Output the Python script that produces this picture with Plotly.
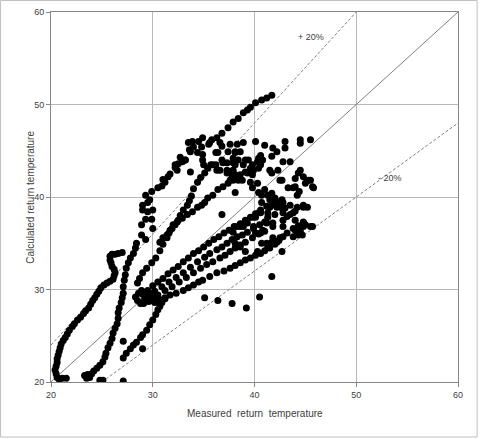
import plotly.graph_objects as go

# ---------------- data (measured, calculated) ----------------
left_branch = [(20.6,20.5),(20.5,20.9),(20.4,21.3),(20.5,21.7),(20.6,22.1),(20.6,22.5),(20.7,22.9),(20.8,23.3),(20.9,23.7),(21.0,24.1),
               (21.2,24.5),(21.4,24.8),(21.6,25.2),(21.8,25.6),(22.1,26.0),(22.3,26.3),(22.6,26.7),(22.9,27.0),(23.2,27.4),(23.4,27.7),
               (23.7,28.0),(23.9,28.4),(24.1,28.8),(24.3,29.1),(24.5,29.5),(24.7,29.8),(24.9,30.2),(25.2,30.5),(25.5,30.7),(25.8,30.9),
               (26.1,31.1),(26.2,31.5),(26.3,31.8),(26.2,32.2),(26.0,32.5),(25.9,32.9),(25.8,33.2),(25.8,33.6),(26.0,33.8),(26.3,33.8),
               (26.6,33.9),(27.0,34.0),(21.1,20.4),(21.5,20.4),(20.8,20.3)]

steep_branch = [(23.3,20.7),(23.5,20.4),(23.6,20.8),(23.8,20.5),(24.0,20.9),(24.2,21.2),(24.8,20.2),(25.1,20.2),
                (24.5,21.5),(24.8,21.8),(25.1,22.2),(25.3,22.7),(25.4,23.1),(25.6,23.7),(25.8,24.2),(26.0,24.7),(26.1,25.3),
                (26.3,25.8),(26.5,26.3),(26.6,26.9),(26.6,27.5),(26.7,28.0),(26.9,28.6),(27.0,29.1),(27.1,29.6),(27.1,30.3),
                (27.2,31.0),(27.3,31.6),(27.4,32.3),(27.6,32.9),(27.8,33.4),(28.1,33.9),(28.3,34.5),
                (28.4,35.0),(28.9,35.9),(29.3,35.4),(28.9,37.0),(29.3,37.6),(29.9,37.6),(30.0,36.6),(29.0,38.6),(29.5,38.4),
                (30.0,38.6),(29.0,39.1),(29.5,39.4),(29.7,39.7),(29.3,40.2),(29.9,40.6),(30.5,41.0),(30.9,41.2),(31.2,41.6),
                (31.5,42.2),(31.7,42.5),(32.2,43.2),(32.4,42.9),(32.5,43.6),(32.7,44.3),(32.9,43.8),(33.2,44.0),(33.6,45.1)]

fan_steep = [(28.5,30.7),(28.7,31.2),(29.0,31.8),(29.4,32.3),(29.9,32.9),(30.3,33.4),(30.7,34.2),(31.0,34.9),(31.4,35.6),
             (31.6,36.1),(31.9,36.6),(32.2,37.0),(32.5,37.5),(32.7,38.0),(33.0,38.6),(33.4,39.1),(33.6,39.6),(33.8,40.1),
             (34.0,40.9),(34.4,41.6),(34.7,42.1),(35.1,42.6),(35.4,43.1)]

fan_shallow = [(30.7,35.1),(31.0,35.6),(31.4,35.9),(31.7,36.4),(32.0,37.0),(32.4,37.3),(32.9,37.7),(33.4,38.1),(33.9,38.4),
               (34.4,38.9),(34.8,39.1),(35.1,39.4),(35.4,39.9),(35.9,40.2),(36.4,40.8),(36.9,41.1),(37.4,41.5),(37.9,41.8),(38.4,42.2)]

rising_line = [(27.1,22.6),(27.4,23.1),(27.8,23.6),(28.1,24.0),(28.4,24.3),(28.8,24.8),(29.0,25.1),(29.4,25.6),(29.7,26.2),
               (30.0,26.7),(30.3,27.3),(30.5,27.8),(30.7,28.2),(30.9,28.6),(31.2,29.0)]

lower_band = [(28.3,29.2),(28.5,28.8),(28.8,28.5),(29.1,28.5),(29.4,28.8),(28.6,29.6),(28.9,29.9),(29.2,29.0),(29.6,28.7),(30.0,28.8),(29.8,29.6),(30.3,29.2),
              (29.0,29.5),(29.5,29.9),(30.0,30.4),(30.5,30.8),(31.0,31.2),(31.5,31.7),(32.0,32.1),(32.5,32.5),(33.0,33.0),(33.5,33.4),
              (34.0,33.9),(34.5,34.2),(35.0,34.6),(35.5,35.0),(36.0,35.4),(36.5,35.7),(37.0,36.1),(37.5,36.4),(38.0,36.8),(38.6,37.1),
              (39.1,37.3),(39.6,37.8),(40.1,38.2),(40.6,38.6),(41.2,39.0),(41.8,39.3),(42.3,39.5),
              (29.5,29.3),(30.2,29.8),(30.9,30.3),(31.6,30.8),(32.3,31.3),(33.0,31.8),(33.7,32.4),(34.4,33.0),(35.1,33.5),(35.6,33.9),
              (36.3,34.3),(36.8,34.6),(37.3,35.0),(37.8,35.4),(38.3,35.7),(38.8,35.9),(39.3,36.2),(39.9,36.6),(40.5,37.0),(41.0,37.3),
              (29.8,29.0),(30.5,29.4),(31.2,29.9),(31.9,30.3),(32.6,30.8),(33.3,31.3),(34.0,31.8),(34.7,32.3),(35.3,32.7),(35.9,33.0),
              (36.6,33.4),(37.1,33.7),(37.6,34.1),(38.1,34.5),(38.6,34.8),(39.1,35.1),(39.8,35.6),(40.4,36.0),(41.0,36.3),
              (30.2,28.6),(30.7,28.9),(31.2,29.1),(31.7,29.4),(32.3,29.6),(33.0,29.9),(33.5,30.2),(34.0,30.5),(34.5,30.8),(34.9,31.0),
              (35.6,31.4),(36.3,31.8),(37.0,32.0),(37.6,32.3),(38.1,32.6),(38.6,32.9),(39.1,33.2),(39.6,33.4),(40.1,33.7),(40.6,33.9),
              (41.0,34.2),(41.5,34.5),(42.0,34.9),(42.4,35.3),(42.8,35.7)]

upper_cluster = [(33.5,45.9),(33.9,46.0),(34.0,45.4),(33.7,44.9),(34.5,46.0),(34.9,46.4),(34.8,45.4),(34.9,44.6),(35.8,46.2),(35.6,45.9),
                 (36.6,45.9),(36.8,45.5),(37.6,45.7),(33.2,44.0),(32.2,43.5),(31.0,41.9),(34.4,44.8),(35.5,45.7),(36.2,44.8),(37.4,44.9),
                 (38.1,44.8),(38.3,45.7),(34.9,44.0),(35.0,43.5),(35.7,43.5),(36.2,43.5),(36.6,42.9),(37.3,42.9),(37.8,42.8),(38.1,43.5),
                 (33.7,42.7),(36.4,44.8),(36.8,44.0),(37.3,43.7),(36.3,46.4),(36.8,46.9),(37.4,47.5),
                 (37.9,48.1),(38.4,48.5),(38.9,49.1),(39.3,49.4),(39.6,49.7),(40.1,50.2),(40.7,50.5),(41.2,50.7),(41.7,51.0),
                 (35.9,43.5),(36.3,42.9),(37.3,42.6),(37.6,41.8),(38.1,42.4),(38.4,41.8),(39.1,42.7),(39.6,41.6),(36.9,43.7),(37.9,43.7),
                 (38.4,44.0),(39.4,44.0),(39.8,43.5),(40.3,43.8),(40.6,43.5),(38.1,40.5),(40.4,43.1),(38.1,44.9),(38.6,44.9),(37.9,44.2),
                 (39.1,44.0),(38.9,43.5),(39.6,43.1),(39.9,42.9),(40.4,44.2),(40.6,44.5),(39.3,42.6),(39.8,42.4),(38.8,41.8),(38.6,42.4),
                 (37.9,42.9),(37.8,42.2),(39.8,41.0),(40.3,41.5),(40.4,40.5),(40.7,40.2),(41.0,40.8),(41.7,40.4),(38.9,45.9)]

right_cluster = [(40.1,46.0),(41.0,45.6),(41.8,45.3),(43.0,46.0),(43.0,45.3),(44.5,46.2),(44.5,45.8),(45.5,46.2),(42.2,44.9),(42.8,43.8),
                 (43.5,43.8),(41.7,44.4),(40.8,44.0),(41.5,42.9),(41.7,42.6),(42.5,41.8),(42.7,41.8),(42.3,42.9),(44.5,42.9),(44.3,42.6),
                 (44.0,42.0),(45.5,41.8),(45.8,41.0),(45.0,41.5),(43.8,41.0),(43.3,41.0),(44.2,40.2),(44.4,40.6),(42.0,39.9),(42.5,39.5),
                 (42.8,39.4),(41.7,39.1),(41.5,38.9),(43.0,38.8),(44.8,39.1),(45.2,38.9),(44.0,38.5),(43.5,38.1),(43.2,37.9),(42.8,38.3),
                 (42.0,38.1),(41.3,38.3),(40.6,38.3),(41.2,37.2),(41.8,36.8),(40.1,37.8),(39.1,37.5),(38.9,36.8),(38.3,36.8),(37.9,36.2),
                 (39.9,36.8),(40.1,36.1),(40.8,36.4),(41.8,35.6),(44.0,37.5),(44.3,36.9),(44.8,36.8),(44.0,36.4),(44.3,35.9),(44.5,36.3),
                 (45.7,36.8),(43.8,35.7),(43.2,36.1),(42.8,37.5),(44.8,37.2),(45.5,36.8),(43.5,39.1),(42.7,38.8),(42.7,39.7),(42.2,38.9),
                 (43.8,38.3),(44.2,38.9),(44.8,38.9),(45.3,41.8),(45.7,41.1),(44.8,42.2),(44.0,41.1),(41.3,40.2),(41.5,39.7),(40.7,39.4),
                 (41.3,37.8),(40.4,38.3),(39.8,37.8),(39.3,37.2),(38.6,36.8),(40.6,36.1),(41.8,37.2),(42.8,36.8),(43.8,36.6),(44.2,36.1),
                 (44.7,35.9),(44.5,36.8),(45.0,37.0),(44.8,37.3),(40.7,35.0),(41.2,35.0),(41.7,35.1),(42.5,35.6),(38.1,35.0),(38.6,34.6),
                 (39.1,34.1),(40.3,34.1),(41.3,34.6),(42.2,35.1)]

outliers = [(27.1,20.1),(29.0,23.6),(27.1,24.4),(35.1,29.1),(36.4,28.8),(37.8,28.5),(39.2,28.0),(40.5,29.2),(41.7,31.4),(42.7,34.1),(36.8,38.1)]

# reference lines (measured -> calculated)
equal_x, equal_y = [20, 60], [20, 60]
plus20_x, plus20_y = [20, 50], [24, 60]
minus20_x, minus20_y = [25, 60], [20, 48]

x_ticks = [20, 30, 40, 50, 60]
y_ticks = [20, 30, 40, 50, 60]

groups = [left_branch, steep_branch, fan_steep, fan_shallow, rising_line, lower_band, upper_cluster, right_cluster, outliers]

fig = go.Figure()
line_col = "#7f7f7f"
fig.add_trace(go.Scatter(x=equal_x, y=equal_y, mode="lines", line=dict(color=line_col, width=1), hoverinfo="skip"))
fig.add_trace(go.Scatter(x=plus20_x, y=plus20_y, mode="lines", line=dict(color=line_col, width=1, dash="3px,2px"), hoverinfo="skip"))
fig.add_trace(go.Scatter(x=minus20_x, y=minus20_y, mode="lines", line=dict(color=line_col, width=1, dash="3px,2px"), hoverinfo="skip"))

for g in groups:
    gx = [p[0] for p in g]
    gy = [p[1] for p in g]
    fig.add_trace(go.Scatter(x=gx, y=gy, mode="markers", marker=dict(color="black", size=7, line=dict(width=0))))

font_family = "Liberation Sans, Arial, sans-serif"
txt_col = "#404040"
axis_common = dict(
    showgrid=True, gridcolor="#b8b8b8", gridwidth=1, zeroline=False,
    showline=True, linecolor="#868686", linewidth=1, mirror=True,
    ticks="outside", ticklen=4, tickcolor="#868686",
    tickfont=dict(family=font_family, size=9, color=txt_col),
    automargin=False,
)
fig.update_xaxes(range=[20, 60], tickvals=x_ticks, ticktext=[str(v) for v in x_ticks], **axis_common)
fig.update_yaxes(range=[20, 60], tickvals=y_ticks, ticktext=[str(v) for v in y_ticks], **axis_common)

fig.add_annotation(xref="paper", yref="paper", x=0.5, y=-0.084, xanchor="center", yanchor="middle",
                   text="Measured  return  temperature", showarrow=False,
                   font=dict(family=font_family, size=10, color=txt_col))
fig.add_annotation(xref="paper", yref="paper", x=-0.052, y=0.5, xanchor="center", yanchor="middle",
                   text="Calculated return temperature", showarrow=False,
                   textangle=-90, font=dict(family=font_family, size=10, color=txt_col))

fig.add_annotation(x=45.6, y=57.3, text="+ 20%", showarrow=False, font=dict(family=font_family, size=9, color=txt_col))
fig.add_annotation(x=53.3, y=42.1, text="- 20%", showarrow=False, font=dict(family=font_family, size=9, color=txt_col))

# outer chart frame
fig.add_shape(type="rect", xref="paper", yref="paper", x0=-0.124, x1=1.047, y0=-0.1486, y1=1.031,
              line=dict(color="#c0c0c0", width=1))

fig.update_layout(
    width=480, height=439, showlegend=False,
    margin=dict(l=51, r=22, t=12, b=57),
    paper_bgcolor="white", plot_bgcolor="white",
)
fig.write_html("out.html", config={"displayModeBar": False},
               post_script="document.body.style.margin='0';")
